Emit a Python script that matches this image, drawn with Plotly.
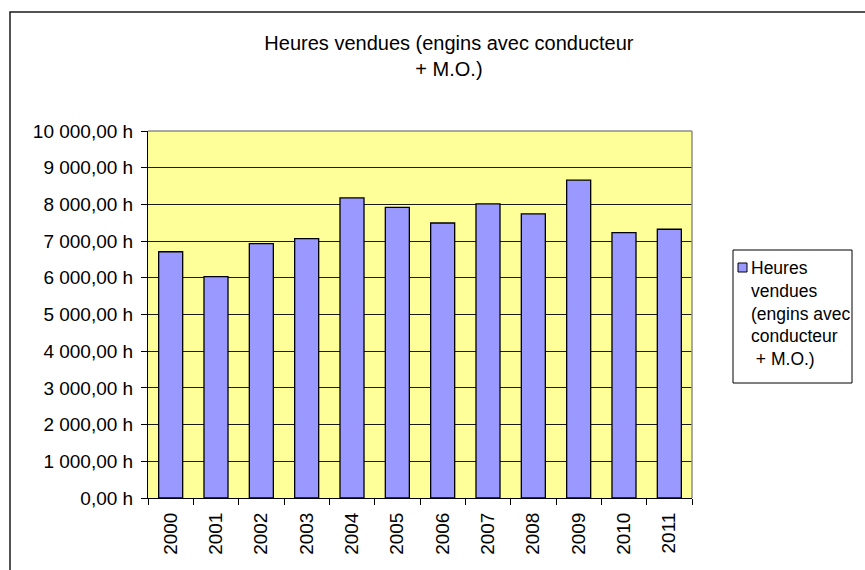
import plotly.graph_objects as go

# ---- data ----
years = ["2000", "2001", "2002", "2003", "2004", "2005",
         "2006", "2007", "2008", "2009", "2010", "2011"]
heures = [6710, 6030, 6930, 7065, 8178, 7917,
          7493, 8013, 7744, 8659, 7233, 7323]
series_name = "Heures vendues (engins avec conducteur + M.O.)"
y_tick_vals = [0, 1000, 2000, 3000, 4000, 5000, 6000, 7000, 8000, 9000, 10000]
y_tick_text = ["0,00 h", "1 000,00 h", "2 000,00 h", "3 000,00 h", "4 000,00 h",
               "5 000,00 h", "6 000,00 h", "7 000,00 h", "8 000,00 h",
               "9 000,00 h", "10 000,00 h"]
title_text = "Heures vendues (engins avec conducteur<br>+ M.O.)"
legend_text = "Heures<br>vendues<br>(engins avec<br>conducteur<br>\u00a0+ M.O.)"

FONT = "Liberation Sans, Arial, sans-serif"
BAR_COLOR = "#9999FF"
TICK_SIZE = 19
TITLE_SIZE = 20

fig = go.Figure()
fig.add_trace(go.Bar(
    x=years, y=heures, name=series_name,
    marker=dict(color=BAR_COLOR, line=dict(color="#000000", width=1.3)),
    showlegend=False,
))

# paper-coordinate helpers (plot area: x 148..692, y 131..498)
L, R, T, B = 148, 692, 131, 498
def px(x):
    return (x - L) / (R - L)
def py(y):
    return (B - y) / (B - T)

shapes = [
    # outer chart border
    dict(type="rect", xref="paper", yref="paper",
         x0=px(10), x1=px(866), y0=py(578), y1=py(12),
         line=dict(color="#1a1a1a", width=1.5), layer="above"),
    # plot area top / right border (gray)
    dict(type="line", xref="paper", yref="paper", x0=0, x1=1, y0=1, y1=1,
         line=dict(color="#8c8c8c", width=1.5)),
    dict(type="line", xref="paper", yref="paper", x0=1, x1=1, y0=0, y1=1,
         line=dict(color="#8c8c8c", width=1.5)),
    # legend box
    dict(type="rect", xref="paper", yref="paper",
         x0=px(733), x1=px(852), y0=py(383), y1=py(250),
         line=dict(color="#000000", width=1), fillcolor="white", layer="above"),
    # legend swatch
    dict(type="rect", xref="paper", yref="paper",
         x0=px(738), x1=px(747), y0=py(272), y1=py(263),
         line=dict(color="#000000", width=1), fillcolor=BAR_COLOR, layer="above"),
]

fig.update_layout(
    width=865, height=570, autosize=False,
    margin=dict(l=L, r=865 - R, t=T, b=570 - B, pad=0),
    paper_bgcolor="white",
    plot_bgcolor="#FFFF99",
    font=dict(family=FONT, size=TICK_SIZE, color="#000000"),
    bargap=0.47,
    title=dict(text=title_text, x=0.519, xref="container", xanchor="center",
               y=1 - 50 / 570, yref="container", yanchor="top",
               font=dict(family=FONT, size=TITLE_SIZE, color="#000000")),
    shapes=shapes,
    annotations=[dict(text=legend_text, xref="paper", yref="paper",
                      x=px(749), y=py(256), xanchor="left", yanchor="top",
                      align="left", showarrow=False,
                      font=dict(family=FONT, size=17.5, color="#000000"))],
    xaxis=dict(
        type="category", tickangle=-90, tickson="boundaries",
        ticks="outside", ticklen=6, tickcolor="#000000", tickwidth=1,
        showline=True, linecolor="#000000", linewidth=1,
        showgrid=False, tickfont=dict(family=FONT, size=TICK_SIZE),
        ticklabelstandoff=6,
    ),
    yaxis=dict(
        range=[0, 10000], tickvals=y_tick_vals, ticktext=y_tick_text,
        ticks="outside", ticklen=6, tickcolor="#000000", tickwidth=1,
        showline=True, linecolor="#000000", linewidth=1,
        showgrid=True, gridcolor="#1a1a1a", gridwidth=1,
        zeroline=False, tickfont=dict(family=FONT, size=TICK_SIZE),
        ticklabelstandoff=4,
    ),
)

fig.write_html("out.html",
               config={"displayModeBar": False},
               post_script="document.body.style.margin='0';"
                           "document.body.style.overflow='hidden';")
